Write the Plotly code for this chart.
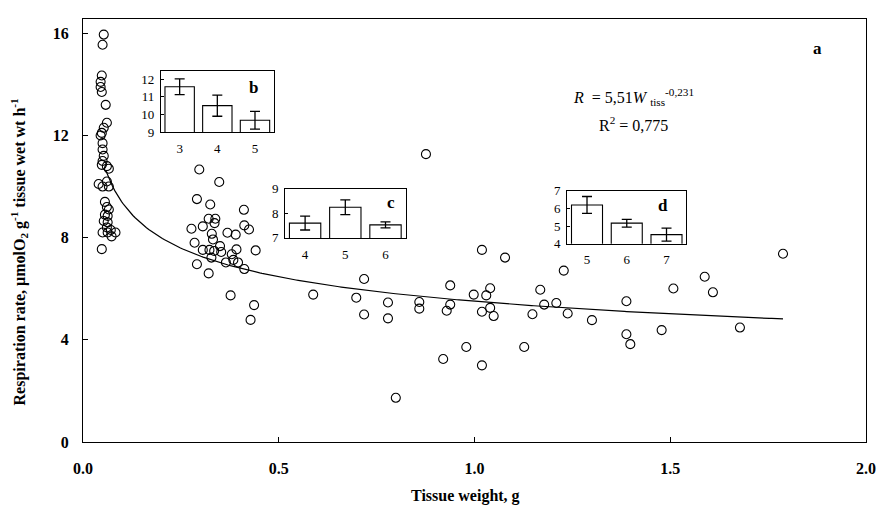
import numpy as np
import plotly.graph_objects as go

# ---- main scatter data (tissue weight g, respiration rate) ----
w_small = [0.053, 0.050, 0.048, 0.045, 0.045, 0.048, 0.058, 0.061, 0.053, 0.048, 0.045,
           0.050, 0.050, 0.053, 0.050, 0.048, 0.061, 0.066, 0.040, 0.050, 0.061, 0.066,
           0.056, 0.061, 0.066, 0.056, 0.063, 0.053, 0.063, 0.061, 0.071, 0.050, 0.083,
           0.073, 0.063, 0.048]
r_small = [15.95, 15.55, 14.35, 14.1, 13.9, 13.7, 13.2, 12.5, 12.3, 12.1, 12.0,
           11.7, 11.45, 11.2, 11.0, 10.85, 10.8, 10.7, 10.1, 10.0, 10.2, 10.0,
           9.4, 9.2, 9.1, 8.9, 8.85, 8.65, 8.6, 8.4, 8.3, 8.2, 8.2,
           8.05, 8.2, 7.55]

w_mid = [0.297, 0.348, 0.291, 0.325, 0.411, 0.321, 0.338, 0.336, 0.306, 0.277, 0.412,
         0.424, 0.369, 0.390, 0.329, 0.285, 0.332, 0.350, 0.306, 0.323, 0.335, 0.353,
         0.392, 0.441, 0.328, 0.380, 0.384, 0.365, 0.396, 0.412, 0.291, 0.321, 0.377,
         0.437, 0.428]
r_mid = [10.67, 10.18, 9.51, 9.30, 9.09, 8.74, 8.74, 8.57, 8.44, 8.35, 8.48,
         8.32, 8.19, 8.12, 8.15, 7.80, 7.93, 7.67, 7.52, 7.52, 7.48, 7.44,
         7.54, 7.50, 7.22, 7.35, 7.13, 7.03, 7.03, 6.77, 6.96, 6.60, 5.74,
         5.36, 4.78]

w_large = [0.588, 0.698, 0.718, 0.718, 0.779, 0.779, 0.799, 0.859, 0.859, 0.876, 0.920,
           0.929, 0.938, 0.938, 0.979, 0.998, 1.019, 1.019, 1.019, 1.030, 1.040, 1.040,
           1.049, 1.078, 1.127, 1.148, 1.168, 1.178, 1.209, 1.228, 1.238, 1.300, 1.388,
           1.388, 1.398, 1.478, 1.508, 1.588, 1.609, 1.678, 1.788]
r_large = [5.77, 5.65, 6.38, 4.99, 5.46, 4.84, 1.73, 5.48, 5.22, 11.27, 3.25,
           5.14, 6.13, 5.38, 3.72, 5.77, 7.52, 5.10, 3.00, 5.74, 6.02, 5.25,
           4.93, 7.22, 3.72, 5.00, 5.96, 5.38, 5.44, 6.71, 5.03, 4.77, 5.51,
           4.22, 3.83, 4.38, 6.01, 6.47, 5.86, 4.48, 7.37]

# fitted power curve R = a * W^b (as stated on the chart)
fit_a = 5.51
fit_b = -0.231
fit_w_min = 0.058
fit_w_max = 1.788

# ---- inset data ----
b_cat = [3, 4, 5]
b_val = [11.57, 10.50, 9.67]
b_err = [0.45, 0.60, 0.50]

c_cat = [4, 5, 6]
c_val = [7.60, 8.24, 7.53]
c_err = [0.28, 0.30, 0.12]

d_cat = [5, 6, 7]
d_val = [6.20, 5.17, 4.52]
d_err = [0.48, 0.22, 0.37]

x_ticks = [0.0, 0.5, 1.0, 1.5, 2.0]
y_ticks = [0, 4, 8, 12, 16]

SERIF = "Liberation Serif"

fig = go.Figure()

w_all = w_small + w_mid + w_large
r_all = r_small + r_mid + r_large
fig.add_trace(go.Scatter(
    x=w_all, y=r_all, mode="markers",
    marker=dict(symbol="circle-open", size=9, color="black", line=dict(width=1.1)),
    showlegend=False, xaxis="x", yaxis="y"))

wf = np.linspace(fit_w_min, fit_w_max, 300)
rf = fit_a * wf ** fit_b
fig.add_trace(go.Scatter(x=wf, y=rf, mode="lines",
                         line=dict(color="black", width=1.2),
                         showlegend=False, xaxis="x", yaxis="y"))

def add_inset(cat, val, err, xa, ya):
    fig.add_trace(go.Bar(
        x=cat, y=val, width=0.78,
        marker=dict(color="white", line=dict(color="black", width=1.1)),
        error_y=dict(type="data", array=err, color="black", thickness=1.3, width=5),
        showlegend=False, xaxis=xa, yaxis=ya))

add_inset(b_cat, b_val, b_err, "x2", "y2")
add_inset(c_cat, c_val, c_err, "x3", "y3")
add_inset(d_cat, d_val, d_err, "x4", "y4")

tick_font_main = dict(family=SERIF, size=16, color="black", weight="bold")
tick_font_inset = dict(family=SERIF, size=13, color="black")

def inset_x(cat, dom, anchor):
    return dict(domain=dom, anchor=anchor, range=[cat[0] - 0.5, cat[-1] + 0.5],
                tickvals=cat, showline=True, mirror=True, linecolor="black", linewidth=1,
                ticks="outside", ticklen=4, tickcolor="rgba(0,0,0,0)",
                showgrid=False, zeroline=False, tickfont=tick_font_inset)

def inset_y(rng, tv, dom, anchor):
    return dict(domain=dom, anchor=anchor, range=rng, tickvals=tv,
                showline=True, mirror=True, linecolor="black", linewidth=1,
                ticks="inside", ticklen=3, tickcolor="black",
                showgrid=False, zeroline=False, tickfont=tick_font_inset,
                ticklabelstandoff=3)

fig.update_layout(
    width=888, height=511,
    margin=dict(l=83, r=13, t=13, b=69),
    paper_bgcolor="white", plot_bgcolor="white",
    font=dict(family=SERIF, color="black"),
    xaxis=dict(domain=[0, 1], anchor="y", range=[0, 2.0], tickvals=x_ticks,
               tickformat=".1f", showline=True, mirror=True, linecolor="black",
               linewidth=1.2, ticks="inside", ticklen=5, tickcolor="black",
               showgrid=False, zeroline=False, tickfont=tick_font_main,
               ticklabelstandoff=12),
    yaxis=dict(domain=[0, 1], anchor="x", range=[0, 16.56], tickvals=y_ticks,
               showline=True, mirror=True, linecolor="black", linewidth=1.2,
               ticks="inside", ticklen=5, tickcolor="black",
               showgrid=False, zeroline=False, tickfont=tick_font_main,
               ticklabelstandoff=10),
    xaxis2=inset_x(b_cat, [0.0994, 0.2437], "y2"),
    yaxis2=inset_y([9, 12.45], [9, 10, 11, 12], [0.7326, 0.8765], "x2"),
    xaxis3=inset_x(c_cat, [0.2580, 0.4120], "y3"),
    yaxis3=inset_y([7, 9], [7, 8, 9], [0.4825, 0.5991], "x3"),
    xaxis4=inset_x(d_cat, [0.6183, 0.7706], "y4"),
    yaxis4=inset_y([4, 7], [4, 5, 6, 7], [0.4685, 0.5937], "x4"),
)

ann = []
# axis titles
ann.append(dict(text="Tissue weight, g", xref="paper", yref="paper",
                x=(470 - 83) / 792, y=-(497 - 442) / 429, showarrow=False,
                font=dict(family=SERIF, size=16, weight="bold"),
                xanchor="center", yanchor="middle"))
ann.append(dict(text="Respiration rate, μmolO<sub>2</sub> g<sup>-1</sup> tissue wet wt h<sup>-1</sup>",
                xref="paper", yref="paper", x=-(83 - 18) / 792, y=(442 - 249) / 429,
                textangle=-90, showarrow=False,
                font=dict(family=SERIF, size=16, weight="bold"),
                xanchor="center", yanchor="middle"))
# panel letters
for txt, px, py in [("a", 826, 43), ("b", 255, 82), ("c", 395, 199), ("d", 670, 202)]:
    ann.append(dict(text=txt, xref="paper", yref="paper",
                    x=(px - 83) / 792, y=(442 - py) / 429, showarrow=False,
                    font=dict(family=SERIF, size=17, weight="bold"),
                    xanchor="center", yanchor="middle"))
# equation
ann.append(dict(text="<i>R</i>  = 5,51<i>W</i> <sub>tiss</sub><sup>-0,231</sup>",
                xref="paper", yref="paper", x=(640 - 83) / 792, y=(442 - 92) / 429,
                showarrow=False, font=dict(family=SERIF, size=16),
                xanchor="center", yanchor="middle"))
ann.append(dict(text="R<sup>2</sup> = 0,775",
                xref="paper", yref="paper", x=(640 - 83) / 792, y=(442 - 119) / 429,
                showarrow=False, font=dict(family=SERIF, size=16),
                xanchor="center", yanchor="middle"))
fig.update_layout(annotations=ann)

fig.write_html("out.html")
